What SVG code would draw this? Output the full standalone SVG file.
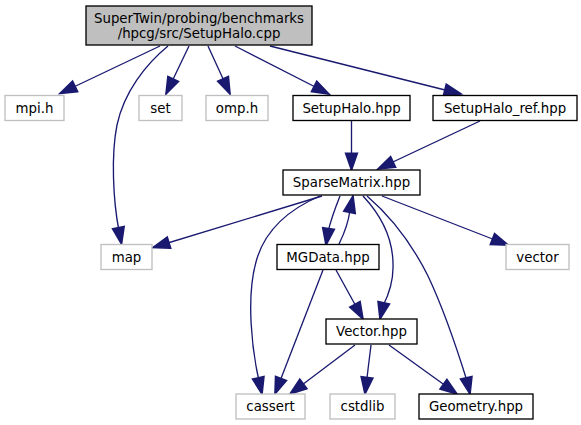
<svg xmlns="http://www.w3.org/2000/svg" width="581" height="425" viewBox="0 0 581 425">
<style>
  .n rect { fill: #ffffff; stroke: #000000; stroke-width: 1.33; }
  .x rect { fill: #ffffff; stroke: #bfbfbf; stroke-width: 1.33; }
  .root rect { fill: #bfbfbf; stroke: #000000; stroke-width: 1.33; }
  text { font-family: "DejaVu Sans", sans-serif; font-size: 13.33px; fill: #000000; text-anchor: middle; }
  .e path { fill: none; stroke: #191970; stroke-width: 1.33; marker-end: url(#ah); }
</style>
<defs>
  <marker id="ah" markerUnits="userSpaceOnUse" orient="auto" refX="13.33" refY="0" markerWidth="20" markerHeight="20" viewBox="-1 -6 16 12" overflow="visible">
    <path d="M0,-4.67 L13.33,0 L0,4.67 Z" fill="#191970" stroke="#191970" stroke-width="1.33"/>
  </marker>
</defs>
<rect width="581" height="425" fill="#ffffff"/>
<g id="edges" class="e">
  <path d="M160,46 L60,93.5"/>
  <path d="M168,46 C146,64 124,92 117,125 C111,155 113,200 119,231 L121.5,244"/>
  <path d="M189,46 L166,94"/>
  <path d="M208,46 L230,94"/>
  <path d="M235,46 L329,94"/>
  <path d="M270,46 L461,94"/>
  <path d="M351.5,121 L351.5,170"/>
  <path d="M480,121 L378,169"/>
  <path d="M322,196 L153,247.5"/>
  <path d="M320,196 C292,208 265,228 256,262 C246,298 252,350 259,381 L262,394"/>
  <path d="M340,196 C336,206 331,219 328,232 L326,245"/>
  <path d="M339,244 C343,236 348,226 350,210 L353,196"/>
  <path d="M382,196 L508,245"/>
  <path d="M363,196 C378,212 394,237 393,268 C393,283 388,296 383,306 L380,319"/>
  <path d="M367,196 C395,220 415,250 428,276 C445,312 458,352 467,381 L470,394"/>
  <path d="M336,270 L363,319"/>
  <path d="M323,270 L275,394"/>
  <path d="M355,345 L290,394"/>
  <path d="M371,345 L365,394"/>
  <path d="M389,345 L457,394"/>
</g>
<g id="node_root" class="root">
  <rect x="86" y="6" width="226" height="39"/>
  <text x="199" y="23">SuperTwin/probing/benchmarks</text>
  <text x="199" y="37.7">/hpcg/src/SetupHalo.cpp</text>
</g>
<g id="node_mpi" class="x"><rect x="5" y="95.5" width="59" height="25"/><text x="34.5" y="112.7">mpi.h</text></g>
<g id="node_set" class="x"><rect x="139" y="95.5" width="43" height="25"/><text x="160.5" y="112.7">set</text></g>
<g id="node_omp" class="x"><rect x="206" y="95.5" width="62" height="25"/><text x="237" y="112.7">omp.h</text></g>
<g id="node_setuphalo" class="n"><rect x="293" y="95.5" width="117" height="25"/><text x="351.5" y="112.7">SetupHalo.hpp</text></g>
<g id="node_setuphalo_ref" class="n"><rect x="433" y="95.5" width="144" height="25"/><text x="505" y="112.7">SetupHalo_ref.hpp</text></g>
<g id="node_sparsematrix" class="n"><rect x="283" y="170" width="137" height="25"/><text x="351.5" y="187.2">SparseMatrix.hpp</text></g>
<g id="node_map" class="x"><rect x="101" y="244.5" width="51" height="25"/><text x="126.5" y="261.7">map</text></g>
<g id="node_mgdata" class="n"><rect x="277" y="244.5" width="102" height="25"/><text x="328" y="261.7">MGData.hpp</text></g>
<g id="node_vector_std" class="x"><rect x="506" y="244.5" width="63" height="25"/><text x="537.5" y="261.7">vector</text></g>
<g id="node_vector" class="n"><rect x="326" y="319" width="91" height="25"/><text x="371.5" y="336.2">Vector.hpp</text></g>
<g id="node_cassert" class="x"><rect x="236" y="394" width="69" height="25"/><text x="270.5" y="411.2">cassert</text></g>
<g id="node_cstdlib" class="x"><rect x="330" y="394" width="65" height="25"/><text x="362.5" y="411.2">cstdlib</text></g>
<g id="node_geometry" class="n"><rect x="419" y="394" width="114" height="25"/><text x="476" y="411.2">Geometry.hpp</text></g>
</svg>
